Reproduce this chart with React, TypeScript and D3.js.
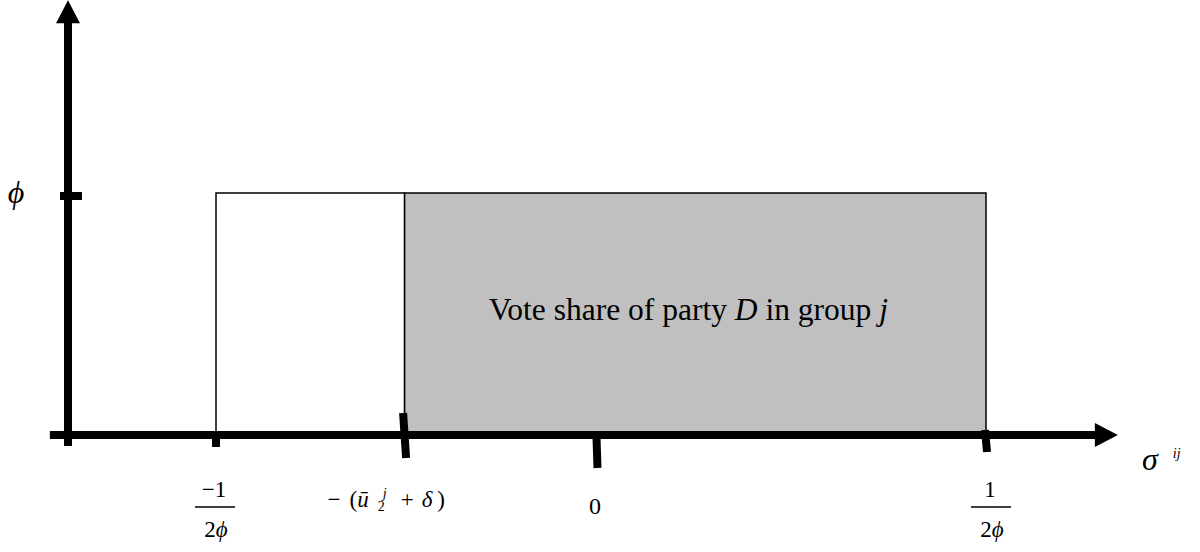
import React, { useEffect, useRef } from 'react';
import * as d3 from 'd3';

// positions along sigma^ij, in units of 1/(2φ)
const BOX_FROM = -1;      // −1/(2φ)
const CUTOFF = -0.505;    // −(ū₂ʲ + δ)
const BOX_TO = 1;         // 1/(2φ)
const DENSITY = 1;        // φ (height of the uniform density)
const X_TICKS = [BOX_FROM, CUTOFF, 0, BOX_TO];
const X_EXTENT = [-1.436, 1.339];
const Y_EXTENT = [-0.045, 1.797];
const PHI = '\u03d5';
const CENTER_TEXT = [
    { t: 'Vote share of party ', italic: false },
    { t: 'D', italic: true },
    { t: ' in group ', italic: false },
    { t: 'j', italic: true }
];

export default function App() {
    const svgRef = useRef<SVGSVGElement>(null);

    useEffect(() => {
        const svg = d3.select(svgRef.current);
        svg.selectAll('*').remove();

        const width = 1200;
        const height = 552;
        svg.attr('width', width).attr('height', height);

        const font = '"Liberation Serif", "Times New Roman", "DejaVu Serif", serif';

        // ---- Scales (hand drawn figure: 0 is not exactly in the middle)
        const x = d3.scaleLinear().domain([-1, 0, 1]).range([216, 597, 986]);
        const y = d3.scaleLinear().domain([0, 1]).range([435, 193]);
        const y0 = y(0);

        // ---- Density boxes
        svg.append('rect')
            .attr('x', x(BOX_FROM))
            .attr('y', y(DENSITY))
            .attr('width', x(CUTOFF) - x(BOX_FROM))
            .attr('height', y0 - y(DENSITY))
            .attr('fill', '#fff')
            .attr('stroke', '#000')
            .attr('stroke-width', 1.5);

        svg.append('rect')
            .attr('x', x(CUTOFF))
            .attr('y', y(DENSITY))
            .attr('width', x(BOX_TO) - x(CUTOFF))
            .attr('height', y0 - y(DENSITY))
            .attr('fill', '#c0c0c0')
            .attr('stroke', '#000')
            .attr('stroke-width', 1.5);

        // ---- Axes with arrow heads
        const head = 23;
        const half = 12;
        const xEnd = x(X_EXTENT[1]);
        svg.append('line')
            .attr('x1', x(X_EXTENT[0]))
            .attr('x2', xEnd - head + 1)
            .attr('y1', y0)
            .attr('y2', y0)
            .attr('stroke', '#000')
            .attr('stroke-width', 8);
        svg.append('path')
            .attr('d', `M${xEnd},${y0}L${xEnd - head},${y0 - half}L${xEnd - head},${y0 + half}Z`)
            .attr('fill', '#000');

        const ax = 68;
        const yTop = y(Y_EXTENT[1]);
        svg.append('line')
            .attr('x1', ax)
            .attr('x2', ax)
            .attr('y1', yTop + head - 1)
            .attr('y2', y(Y_EXTENT[0]))
            .attr('stroke', '#000')
            .attr('stroke-width', 8);
        svg.append('path')
            .attr('d', `M${ax},${yTop}L${ax - half},${yTop + head}L${ax + half},${yTop + head}Z`)
            .attr('fill', '#000');

        // y tick at φ
        svg.append('line')
            .attr('x1', ax - 8)
            .attr('x2', ax + 14)
            .attr('y1', y(DENSITY) + 3)
            .attr('y2', y(DENSITY) + 3)
            .attr('stroke', '#000')
            .attr('stroke-width', 8);

        // x ticks (uneven, drawn by hand)
        const tickGeom = [
            { top: 0, bottom: 12, lean: 0 },
            { top: -22, bottom: 23, lean: 3 },
            { top: 3, bottom: 33, lean: 1 },
            { top: -5, bottom: 17, lean: 2 }
        ];
        X_TICKS.forEach((v, i) => {
            const g = tickGeom[i];
            svg.append('line')
                .attr('x1', x(v) - g.lean / 2)
                .attr('x2', x(v) + g.lean / 2)
                .attr('y1', y0 + g.top)
                .attr('y2', y0 + g.bottom)
                .attr('stroke', '#000')
                .attr('stroke-width', 8);
        });

        // ---- Labels
        const fraction = (cx: number, num: string) => {
            svg.append('text')
                .attr('x', cx - 1)
                .attr('y', y0 + 62)
                .attr('text-anchor', 'middle')
                .style('font-family', font)
                .style('font-size', '23px')
                .text(num);
            svg.append('line')
                .attr('x1', cx - 20)
                .attr('x2', cx + 20)
                .attr('y1', y0 + 72)
                .attr('y2', y0 + 72)
                .attr('stroke', '#000')
                .attr('stroke-width', 1.5);
            const den = svg.append('text')
                .attr('x', cx + 1)
                .attr('y', y0 + 102)
                .attr('text-anchor', 'middle')
                .style('font-family', font)
                .style('font-size', '23px');
            den.append('tspan').text('2');
            den.append('tspan').style('font-style', 'italic').text(PHI);
        };
        fraction(x(BOX_FROM) - 1, '\u22121');
        fraction(x(BOX_TO) + 5, '1');

        // −(ū₂ʲ + δ)
        const cut = svg.append('text')
            .attr('x', x(CUTOFF) - 77)
            .attr('y', y0 + 72)
            .style('font-family', font)
            .style('font-size', '23px');
        cut.append('tspan').text('\u2212');
        cut.append('tspan').attr('dx', 9).text('(');
        cut.append('tspan').style('font-style', 'italic').text('\u016b');
        cut.append('tspan').attr('dy', 4).attr('dx', 9).style('font-size', '14px').text('2');
        cut.append('tspan').attr('dy', -13).attr('dx', -2).style('font-size', '14px').style('font-style', 'italic').text('j');
        cut.append('tspan').attr('dy', 9).attr('dx', 14).text('+');
        cut.append('tspan').attr('dx', 8).style('font-style', 'italic').text('δ');
        cut.append('tspan').attr('dx', 5).text(')');

        svg.append('text')
            .attr('x', x(0) - 2)
            .attr('y', y0 + 79)
            .attr('text-anchor', 'middle')
            .style('font-family', font)
            .style('font-size', '24px')
            .text('0');

        // axis names
        svg.append('text')
            .attr('x', 16)
            .attr('y', y(DENSITY) + 10)
            .attr('text-anchor', 'middle')
            .style('font-family', font)
            .style('font-size', '32px')
            .style('font-style', 'italic')
            .text(PHI);

        svg.append('text')
            .attr('x', xEnd + 32)
            .attr('y', y0 + 35)
            .attr('text-anchor', 'middle')
            .style('font-family', font)
            .style('font-size', '32px')
            .style('font-style', 'italic')
            .text('σ');
        svg.append('text')
            .attr('x', xEnd + 55)
            .attr('y', y0 + 23)
            .style('font-family', font)
            .style('font-size', '14px')
            .style('font-style', 'italic')
            .text('ij');

        // label inside the shaded area
        const mid = svg.append('text')
            .attr('x', (x(CUTOFF) + x(BOX_TO)) / 2 - 7)
            .attr('y', y(DENSITY / 2) + 6)
            .attr('text-anchor', 'middle')
            .style('font-family', font)
            .style('font-size', '31.5px')
            .attr('fill', '#000');
        CENTER_TEXT.forEach(p => {
            mid.append('tspan')
                .style('font-style', p.italic ? 'italic' : 'normal')
                .text(p.t);
        });
    }, []);

    return (
        <svg
            ref={svgRef}
            style={{ position: 'absolute', left: 0, top: 0, background: '#fff' }}
        />
    );
}
